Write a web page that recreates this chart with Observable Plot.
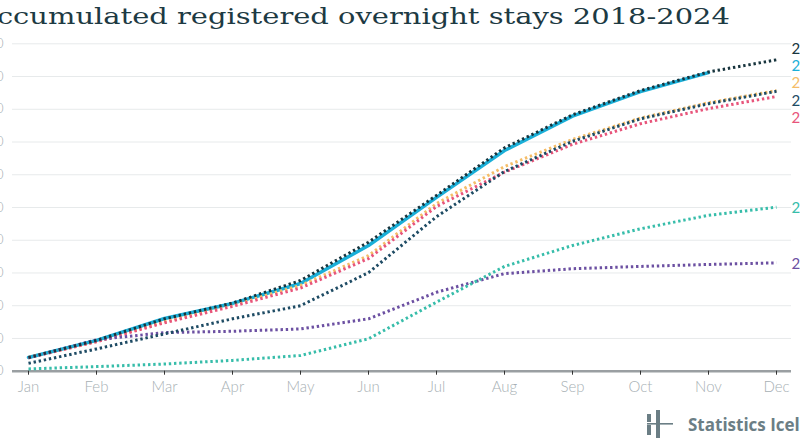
<!DOCTYPE html>
<html>
<head>
<meta charset="utf-8">
<script src="https://cdn.jsdelivr.net/npm/d3@7"></script>
<script src="https://cdn.jsdelivr.net/npm/@observablehq/plot@0.6"></script>
<style>
html, body { margin: 0; padding: 0; background: #fff; overflow: hidden; }
#stage { position: relative; width: 800px; height: 445px; overflow: hidden; background: #fff; }
#chart { position: absolute; left: -40px; top: 0; width: 880px; height: 445px; }
#chart svg { max-width: none !important; }
#title { position: absolute; top: 1px; left: 0; white-space: nowrap; font-family: "DejaVu Serif", serif; font-size: 22px; line-height: 32px; color: #1d3a43; transform-origin: 0 0; }
#logo { position: absolute; left: 644px; top: 408px; height: 32px; display: flex; align-items: center; white-space: nowrap; }
#logo span { font-family: "Open Sans", "DejaVu Sans", sans-serif; font-weight: 700; font-size: 17px; color: #6b7e85; margin-left: 14px; }
</style>
</head>
<body>
<div id="stage">
  <div id="chart"></div>
  <div id="title"><span id="tA">A</span><span id="tRest">ccumulated registered overnight stays 2018-2024</span></div>
  <div id="logo">
    <svg width="30" height="30" viewBox="0 0 30 30">
      <rect x="3" y="5" width="4" height="8" fill="#6b7e85"/>
      <rect x="3" y="16" width="4" height="10" fill="#6b7e85"/>
      <rect x="12" y="1" width="4" height="28" fill="#6b7e85"/>
      <rect x="3" y="14" width="26" height="1.6" fill="#6b7e85"/>
    </svg>
    <span>Statistics Iceland</span>
  </div>
</div>
<script>
const months = ["Jan","Feb","Mar","Apr","May","Jun","Jul","Aug","Sep","Oct","Nov","Dec"];
const years = ["2018","2019","2020","2021","2022","2023","2024"];
const colors = ["#f5bd68","#e8557b","#6c50a2","#37bdaa","#1e4b64","#18353e","#1aafd8"];

// accumulated overnight stays, millions
const v2018 = [0.42, 0.91, 1.52, 2.03, 2.62, 3.53, 5.12, 6.25, 7.08, 7.73, 8.20, 8.57];
const v2019 = [0.41, 0.90, 1.48, 1.98, 2.54, 3.44, 5.03, 6.08, 6.93, 7.56, 8.02, 8.39];
const v2020 = [0.41, 0.96, 1.18, 1.22, 1.29, 1.60, 2.41, 2.98, 3.13, 3.20, 3.26, 3.31];
const v2021 = [0.07, 0.14, 0.22, 0.33, 0.48, 0.99, 2.11, 3.20, 3.84, 4.35, 4.76, 5.01];
const v2022 = [0.24, 0.68, 1.14, 1.60, 2.00, 3.01, 4.72, 6.10, 7.02, 7.71, 8.17, 8.55];
const v2023 = [0.42, 0.94, 1.60, 2.08, 2.77, 3.94, 5.37, 6.82, 7.83, 8.57, 9.14, 9.51];
const v2024 = [0.42, 0.94, 1.61, 2.07, 2.68, 3.84, 5.31, 6.74, 7.79, 8.54, 9.12];

const yTicks = [0,1,2,3,4,5,6,7,8,9,10];

const seriesByYear = {"2018": v2018, "2019": v2019, "2020": v2020, "2021": v2021, "2022": v2022, "2023": v2023, "2024": v2024};
const rows = years.flatMap(yr => seriesByYear[yr].map((v, i) => ({year: yr, month: months[i], value: v})));

// end labels, dodged so they don't overlap
const ends = years.map(yr => ({year: yr, value: seriesByYear[yr][seriesByYear[yr].length - 1]}));
const gap = 0.525;
const sorted = ends.slice().sort((a, b) => b.value - a.value);
let groups = sorted.map(d => ({items: [d], center: d.value}));
let changed = true;
while (changed) {
  changed = false;
  for (let i = 0; i < groups.length - 1; i++) {
    const a = groups[i], b = groups[i + 1];
    const aBottom = a.center - (a.items.length - 1) * gap / 2;
    const bTop = b.center + (b.items.length - 1) * gap / 2;
    if (aBottom - bTop < gap) {
      const items = a.items.concat(b.items);
      const center = d3.mean(items, d => d.value);
      groups.splice(i, 2, {items, center});
      changed = true;
      break;
    }
  }
}
const labels = [];
for (const g of groups) {
  g.items.forEach((d, k) => labels.push({year: d.year, pos: g.center + ((g.items.length - 1) / 2 - k) * gap, month: "Dec"}));
}

const chart = Plot.plot({
  width: 880,
  height: 445,
  marginLeft: 52,
  marginRight: 49,
  marginTop: 43.3,
  marginBottom: 74.3,
  style: {fontFamily: "Lato, sans-serif", background: "transparent", overflow: "visible", maxWidth: "none"},
  x: {type: "point", domain: months, padding: 0.22, label: null},
  y: {domain: [0, 10], label: null},
  color: {domain: years, range: colors},
  marks: [
    Plot.ruleY(yTicks.filter(d => d > 0), {stroke: "#e7eaeb", strokeWidth: 1}),
    Plot.ruleY([0], {stroke: "#9a9fa2", strokeWidth: 2.5}),
    Plot.axisX({tickSize: 4, tickPadding: 6, stroke: "#333", strokeWidth: 1, fill: "#a7b0b4", fontSize: 15, fontWeight: 300}),
    Plot.axisY({ticks: yTicks, tickSize: 0, tickPadding: 9, tickFormat: d => d3.format(",")(d * 1e6), fill: "#a4adb1", fontSize: 13, fontWeight: 300}),
    Plot.line(rows.filter(d => d.year === "2024"), {x: "month", y: "value", stroke: "year", strokeWidth: 3.5, strokeLinejoin: "round"}),
    ...["2018","2019","2020","2021","2022","2023"].map(yr =>
      Plot.line(rows.filter(d => d.year === yr), {x: "month", y: "value", stroke: "year", strokeWidth: 3, strokeDasharray: "2.4,2.8", strokeLinecap: "butt"})
    ),
    Plot.text(labels, {x: "month", y: "pos", text: "year", fill: "year", dx: 15, dy: 1.5, textAnchor: "start", fontSize: 15, fontWeight: 400})
  ]
});
document.getElementById("chart").appendChild(chart);

// position title so that it is cut at the left like the reference
const tA = document.getElementById("tA");
const tRest = document.getElementById("tRest");
const title = document.getElementById("title");
const target = 733;
const w0 = tRest.getBoundingClientRect().width;
const aW = tA.getBoundingClientRect().width;
const sx = target / w0;
title.style.transform = "scaleX(" + sx + ")";
title.style.left = (-(aW * sx) - 3) + "px";
</script>
</body>
</html>
